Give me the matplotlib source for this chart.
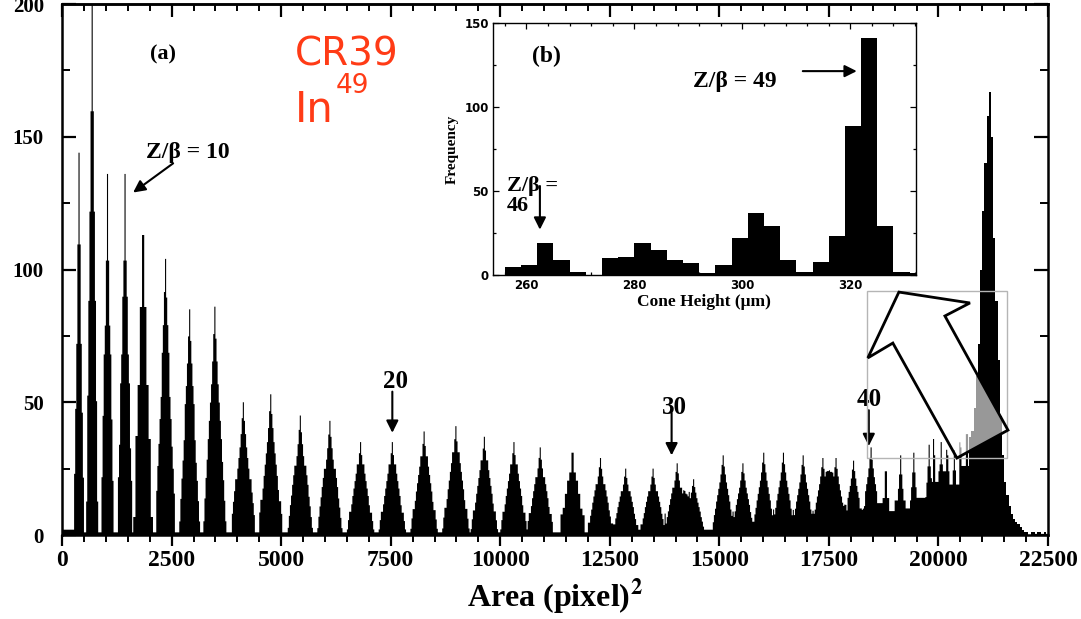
import numpy as np
import matplotlib
matplotlib.use("Agg")
import matplotlib.pyplot as plt
from matplotlib.ticker import MultipleLocator, NullFormatter
from matplotlib.patches import Polygon, Rectangle

plt.rcParams["font.family"] = ["Liberation Serif", "DejaVu Serif"]
plt.rcParams["font.weight"] = "bold"
plt.rcParams["axes.labelweight"] = "bold"
plt.rcParams["mathtext.fontset"] = "stix"

# --- track-area spectrum: one peak per Z/beta value ---
peak_area = [388, 685, 1028, 1439, 1850, 2353, 2901, 3495, 4135, 4751,
             5437, 6122, 6807, 7538, 8269, 8977, 9640, 10302, 10919, 11650,
             12290, 12861, 13477, 14048, 14414, 15076, 15533, 16013, 16470, 16904,
             17361, 17658, 18069, 18457, 18800, 19142, 19439, 19782, 20056, 20353,
             20650, 19900, 20200, 20500]
peak_count = [144, 210, 136, 136, 113, 104, 85, 86, 50, 53,
              45, 43, 35, 35, 39, 41, 37, 35, 33, 31,
              29, 25, 25, 27, 21, 30, 27, 31, 31, 30,
              29, 29, 28, 33, 24, 30, 31, 34, 35, 32,
              38, 28, 30, 33]
peak_width = [215, 250, 280, 330, 410, 440, 450, 500, 540, 530,
              570, 560, 600, 600, 600, 600, 600, 600, 590, 590,
              580, 580, 580, 580, 480, 480, 480, 480, 480, 480,
              480, 480, 460, 460, 250, 250, 250, 250, 250, 250,
              250, 100, 100, 100]
# relative peak profile, from left foot to right foot
peak_shape = [0.06, 0.16, 0.25, 0.33, 0.42, 0.50, 0.58, 0.66, 0.76, 0.88, 1.00,
              0.86, 0.76, 0.66, 0.58, 0.50, 0.42, 0.32, 0.24, 0.15, 0.06]

# background level between peaks (step edges and counts)
floor_edges = [0, 400, 12500, 15000, 15250, 15500, 15750, 16000, 16250, 16500,
               16750, 17000, 17250, 17500, 17750, 18000, 18250, 18500, 18750,
               19000, 19250, 19500, 19750, 20000, 20250, 20500]
floor_count = [2, 1, 2, 4, 6, 3, 5, 7, 4, 6,
               5, 8, 5, 7, 6, 10, 8, 12, 9,
               13, 10, 14, 20, 24, 19, 26]

# In (Z = 49) peak, 50-wide bins from 20700
in_edges = list(range(20700, 22550, 50))
in_count = [37, 39, 48, 60, 72, 100, 122, 140, 158, 167,
            150, 112, 88, 66, 45, 30, 20, 15, 11, 8,
            6, 5, 4, 3, 2, 1, 1, 0, 1, 1,
            0, 1, 1, 0, 1, 0]

# --- inset: cone height histogram ---
cone_edges = list(range(256, 335, 3))
cone_count = [5, 6, 19, 9, 2, 0, 10, 11, 19, 15, 9, 7, 1,
              6, 22, 37, 29, 9, 2, 8, 23, 89, 141, 29, 2, 1]

# build the main histogram
bin_w = 25
edges = np.arange(0, 20700 + bin_w, bin_w)
centers = edges[:-1] + bin_w / 2
counts = np.zeros(len(centers))
shape = np.array(peak_shape)
for c, h, w in zip(peak_area, peak_count, peak_width):
    k = np.round((centers - c) / bin_w)
    pos = k / (w / (2 * bin_w))
    inside = np.abs(pos) <= 1
    idx = np.round((pos[inside] + 1) * 10).astype(int)
    counts[inside] += h * shape[idx]
floor = np.array(floor_count)[np.searchsorted(floor_edges, centers, side="right") - 1]
counts = np.maximum(counts, floor)

fig = plt.figure(figsize=(10.81, 6.19), dpi=100)
ax = fig.add_axes([0.0574, 0.1357, 0.9121, 0.8578])

ax.stairs(counts, edges, fill=True, color="black", linewidth=0)
ax.stairs(in_count, in_edges, fill=True, color="black", linewidth=0)

ax.set_xlim(0, 22500)
ax.set_ylim(0, 200)
ax.xaxis.set_major_locator(MultipleLocator(2500))
ax.xaxis.set_minor_locator(MultipleLocator(500))
ax.yaxis.set_major_locator(MultipleLocator(50))
ax.yaxis.set_minor_locator(MultipleLocator(25))
for s in ax.spines.values():
    s.set_linewidth(1.8)
ax.tick_params(axis="x", which="both", direction="out", top=False, labelsize=17, pad=3)
ax.tick_params(axis="x", which="major", length=8, width=1.6)
ax.tick_params(axis="x", which="minor", length=5, width=1.4)
ax.tick_params(axis="y", which="both", direction="in", right=True, labelsize=15, pad=13)
ax.tick_params(axis="y", which="major", length=10, width=1.6)
ax.tick_params(axis="y", which="minor", length=6, width=1.4)

top = ax.secondary_xaxis("top")
top.xaxis.set_major_locator(MultipleLocator(2500))
top.xaxis.set_minor_locator(MultipleLocator(500))
top.xaxis.set_major_formatter(NullFormatter())
top.tick_params(axis="x", which="major", direction="in", length=9, width=1.6)
top.tick_params(axis="x", which="minor", direction="in", length=5, width=1.4)
top.spines["top"].set_linewidth(1.8)

ax.set_xlabel(r"Area (pixel)$^{\mathbf{2}}$", fontsize=23, fontweight="bold", labelpad=4)

# labels and arrows on the spectrum
ax.text(2307, 181, "(a)", fontsize=16, ha="center", va="center")
ax.text(2878, 144, "Z/β = 10", fontsize=17, ha="center", va="center")
arrow = dict(arrowstyle="-|>", color="black", lw=1.5, mutation_scale=18,
             shrinkA=0, shrinkB=0)
ax.annotate("", xy=(1622, 129), xytext=(2535, 140), arrowprops=arrow)
ax.text(7606, 58, "20", fontsize=18, ha="center", va="center")
ax.annotate("", xy=(7537, 38.5), xytext=(7537, 54), arrowprops=arrow)
ax.text(13980, 48, "30", fontsize=18, ha="center", va="center")
ax.annotate("", xy=(13910, 30), xytext=(13910, 46), arrowprops=arrow)
ax.text(18410, 51, "40", fontsize=18, ha="center", va="center")
ax.annotate("", xy=(18410, 33.5), xytext=(18410, 47), arrowprops=arrow)

red = "#ff3b16"
ax.text(0.236, 0.904, "CR39", transform=ax.transAxes, fontsize=28, color=red,
        family="DejaVu Sans", weight="normal", va="center")
ax.text(0.236, 0.778, "In", transform=ax.transAxes, fontsize=30, color=red,
        family="DejaVu Sans", weight="normal", va="baseline")
ax.text(0.278, 0.846, "49", transform=ax.transAxes, fontsize=19, color=red,
        family="DejaVu Sans", weight="normal", va="center")

# zoom box and the hollow arrow pointing to the inset
ax.add_patch(Rectangle((18380, 29), 3195, 63, fill=False, edgecolor="#b5b5b5",
                       lw=1.0, zorder=3))
arrow_pts = [(19097, 91.5), (20718, 87.4), (20147, 82.5), (21586, 39.5),
             (20421, 29.0), (18959, 72.3), (18388, 66.7)]
ax.add_patch(Polygon(arrow_pts, closed=True, facecolor=(1, 1, 1, 0.6),
                     edgecolor="black", lw=2.0, zorder=4))

# inset (b)
axi = fig.add_axes([0.456, 0.5557, 0.391, 0.407])
axi.stairs(cone_count, cone_edges, fill=True, color="black", linewidth=0)
axi.set_xlim(253.8, 332.1)
axi.set_ylim(0, 150)
axi.xaxis.set_major_locator(MultipleLocator(20))
axi.xaxis.set_minor_locator(MultipleLocator(4))
axi.yaxis.set_major_locator(MultipleLocator(50))
axi.yaxis.set_minor_locator(MultipleLocator(25))
for s in axi.spines.values():
    s.set_linewidth(1.0)
axi.tick_params(which="both", direction="in", top=True, right=True, width=0.9)
axi.tick_params(which="major", length=4, labelsize=8.5, pad=3)
axi.tick_params(which="minor", length=2.5)
for lab in axi.get_xticklabels() + axi.get_yticklabels():
    lab.set_family("DejaVu Sans")
    lab.set_weight("bold")
axi.set_xlabel("Cone Height (μm)", fontsize=12.5, fontweight="bold", labelpad=1)
axi.set_ylabel("Frequency", fontsize=11, fontweight="bold", labelpad=4)

axi.text(263.7, 130, "(b)", fontsize=17, ha="center", va="center")
axi.text(298.6, 115, "Z/β = 49", fontsize=17, ha="center", va="center")
axi.annotate("", xy=(321.2, 121.4), xytext=(311.2, 121.4), arrowprops=arrow)
axi.text(256.4, 47, "Z/β =\n46", fontsize=16, ha="left", va="center",
         linespacing=1.0)
axi.annotate("", xy=(262.5, 27), xytext=(262.5, 53), arrowprops=arrow)

fig.savefig("out.png", dpi=100)
